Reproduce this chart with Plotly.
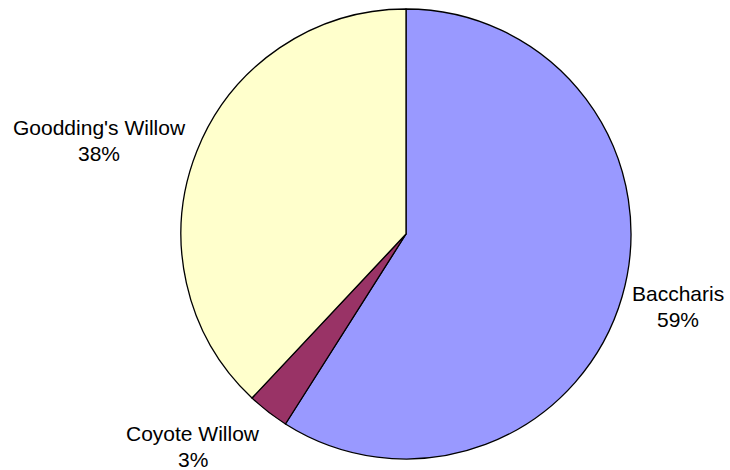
import plotly.graph_objects as go

# Share of stems by species
species = ["Baccharis", "Coyote Willow", "Goodding's Willow"]
shares = [59, 3, 38]
colors = ["#9999FF", "#993366", "#FFFFCC"]

# Label anchor points (pixels from top-left) for the outside labels
label_xy = [(678, 293), (193, 433), (99, 127)]
line_gap = 26

W, H = 730, 470

fig = go.Figure(go.Pie(
    labels=species,
    values=shares,
    sort=False,
    direction="clockwise",
    rotation=0,
    textinfo="none",
    hoverinfo="label+percent",
    marker=dict(colors=colors, line=dict(color="#000000", width=1.3)),
    domain=dict(x=[181 / W, 631 / W], y=[1 - 459 / H, 1 - 9 / H]),
    showlegend=False,
))

total = sum(shares)
for name, v, (px, py) in zip(species, shares, label_xy):
    pct = f"{round(v / total * 100)}%"
    for txt, yy in ((name, py), (pct, py + line_gap)):
        fig.add_annotation(
            x=px / W, y=1 - yy / H, xref="paper", yref="paper",
            text=txt, showarrow=False, xanchor="center", yanchor="middle",
            font=dict(family="Liberation Sans, Arial, sans-serif", size=21, color="#000000"),
        )

fig.update_layout(
    width=W, height=H,
    margin=dict(l=0, r=0, t=0, b=0),
    paper_bgcolor="#FFFFFF",
    plot_bgcolor="#FFFFFF",
)

fig.write_html("out.html")
